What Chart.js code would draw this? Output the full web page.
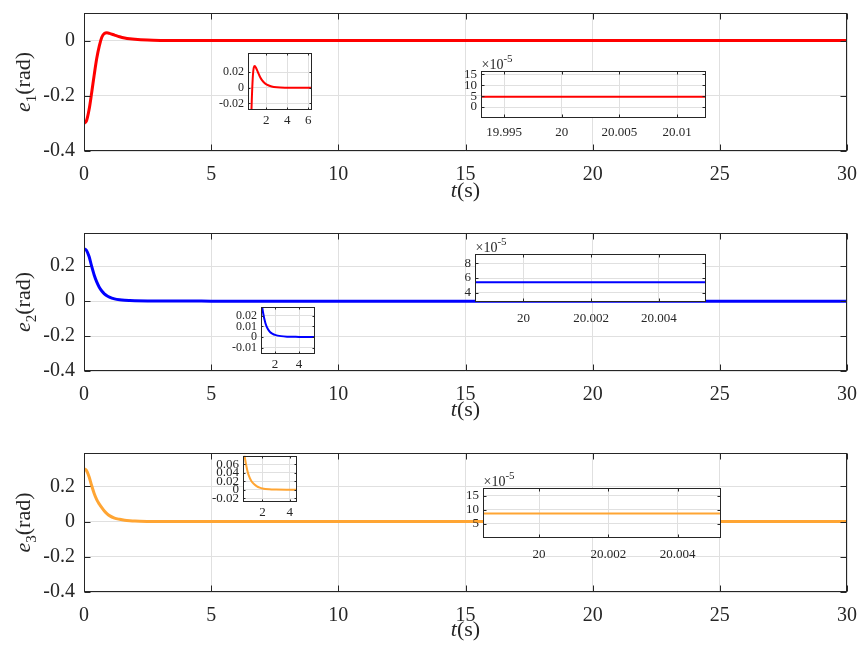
<!DOCTYPE html>
<html>
<head>
<meta charset="utf-8">
<script src="https://cdn.jsdelivr.net/npm/chart.js@4.4.0/dist/chart.umd.min.js"></script>
<style>
html, body { margin: 0; padding: 0; background: #fff; }
#wrap { position: relative; width: 861px; height: 648px; overflow: hidden; }
#wrap canvas { position: absolute; }
</style>
</head>
<body>
<div id="wrap"></div>
<script>
// time samples (s) and errors (rad)
const tMain = [0, 0.1, 0.2, 0.3, 0.4, 0.5, 0.6, 0.7, 0.8, 0.9, 1.0, 1.2, 1.4, 1.6, 1.8, 2.0, 2.5, 3, 4, 5, 30];
const e1 = [-0.30, -0.29, -0.25, -0.19, -0.125, -0.065, -0.02, 0.012, 0.026, 0.028, 0.026, 0.020, 0.014, 0.0095, 0.0065, 0.0045, 0.0018, 0.0007, 0.0002, 0.0001, 0];
const e2 = [0.30, 0.29, 0.255, 0.20, 0.15, 0.11, 0.08, 0.058, 0.042, 0.031, 0.023, 0.013, 0.0075, 0.0045, 0.003, 0.002, 0.0008, 0.0003, 0.0001, 0, 0];
const e3 = [0.30, 0.29, 0.255, 0.205, 0.16, 0.125, 0.10, 0.079, 0.06, 0.045, 0.034, 0.02, 0.013, 0.008, 0.005, 0.003, 0.001, 0.0004, 0.0001, 0, 0];

// zoom around t = 20 s
const tZoom = [19.99, 20.02];
const e1Zoom = [4.7e-5, 4.7e-5];
const e2Zoom = [5.4e-5, 5.4e-5];
const e3Zoom = [8.7e-5, 8.7e-5];

// tick values and labels
const xTicksMain = [0, 5, 10, 15, 20, 25, 30];
const xLabelsMain = ['0', '5', '10', '15', '20', '25', '30'];
const yTicks1 = [-0.4, -0.2, 0];
const yLabels1 = ['-0.4', '-0.2', '0'];
const yTicks23 = [-0.4, -0.2, 0, 0.2];
const yLabels23 = ['-0.4', '-0.2', '0', '0.2'];

const xTicksSmall1 = [2, 4, 6];
const xLabelsSmall1 = ['2', '4', '6'];
const yTicksSmall1 = [-0.02, 0, 0.02];
const yLabelsSmall1 = ['-0.02', '0', '0.02'];
const xTicksSmall23 = [2, 4];
const xLabelsSmall23 = ['2', '4'];
const yTicksSmall2 = [-0.01, 0, 0.01, 0.02];
const yLabelsSmall2 = ['-0.01', '0', '0.01', '0.02'];
const yTicksSmall3 = [-0.02, 0, 0.02, 0.04, 0.06];
const yLabelsSmall3 = ['-0.02', '0', '0.02', '0.04', '0.06'];

const xTicksZoom1 = [19.995, 20, 20.005, 20.01];
const xLabelsZoom1 = ['19.995', '20', '20.005', '20.01'];
const yTicksZoom1 = [0, 5e-5, 10e-5, 15e-5];
const yLabelsZoom1 = ['0', '5', '10', '15'];
const xTicksZoom23 = [20, 20.002, 20.004];
const xLabelsZoom23 = ['20', '20.002', '20.004'];
const yTicksZoom2 = [4e-5, 6e-5, 8e-5];
const yLabelsZoom2 = ['4', '6', '8'];
const yTicksZoom3 = [5e-5, 10e-5, 15e-5];
const yLabelsZoom3 = ['5', '10', '15'];

const SERIF = '"Liberation Serif", "Times New Roman", serif';
const INK = '#262626';
const GRID = '#e0e0e0';
const RED = '#ff0000', BLUE = '#0000ff', ORANGE = '#ffa533';

const wrap = document.getElementById('wrap');

const framePlugin = {
    id: 'frame',
    beforeDraw(chart, args, o) {
        const a = chart.chartArea, ctx = chart.ctx;
        if (o.fill) {
            ctx.save();
            ctx.fillStyle = '#fff';
            ctx.fillRect(a.left, a.top, a.right - a.left, a.bottom - a.top);
            ctx.restore();
        }
    },
    afterDraw(chart, args, o) {
        const a = chart.chartArea, ctx = chart.ctx;
        const L = Math.round(a.left) + 0.5, R = Math.round(a.right) - 0.5;
        const T = Math.round(a.top) + 0.5, B = Math.round(a.bottom) - 0.5;
        const len = o.tick;
        ctx.save();
        ctx.strokeStyle = INK;
        ctx.lineWidth = 1;
        ctx.beginPath();
        chart.scales.x.ticks.forEach(t => {
            const px = Math.round(chart.scales.x.getPixelForValue(t.value)) + 0.5;
            ctx.moveTo(px, B); ctx.lineTo(px, B - len);
            ctx.moveTo(px, T); ctx.lineTo(px, T + len);
        });
        chart.scales.y.ticks.forEach(t => {
            const py = Math.round(chart.scales.y.getPixelForValue(t.value)) + 0.5;
            ctx.moveTo(L, py); ctx.lineTo(L + len, py);
            ctx.moveTo(R, py); ctx.lineTo(R - len, py);
        });
        ctx.stroke();
        ctx.strokeRect(L, T, R - L, B - T);
        ctx.fillStyle = INK;

        if (o.yTitle) {
            const yt = o.yTitle;
            const fMain = yt.size + 'px ' + SERIF;
            const fIt = 'italic ' + fMain;
            const fSub = Math.round(yt.size * 0.7) + 'px ' + SERIF;
            ctx.save();
            ctx.translate(yt.x, yt.y);
            ctx.rotate(-Math.PI / 2);
            ctx.textBaseline = 'alphabetic';
            ctx.font = fIt; const w1 = ctx.measureText(yt.text).width;
            ctx.font = fSub; const w2 = ctx.measureText(yt.sub).width;
            ctx.font = fMain; const w3 = ctx.measureText(yt.rest).width;
            let x0 = -(w1 + w2 + w3) / 2;
            ctx.font = fIt; ctx.fillText(yt.text, x0, 0); x0 += w1;
            ctx.font = fSub; ctx.fillText(yt.sub, x0, yt.size * 0.25); x0 += w2;
            ctx.font = fMain; ctx.fillText(yt.rest, x0, 0);
            ctx.restore();
        }
        if (o.xTitle) {
            const xt = o.xTitle;
            const fMain = xt.size + 'px ' + SERIF;
            ctx.textBaseline = 'middle';
            ctx.font = 'italic ' + fMain; const w1 = ctx.measureText(xt.text).width;
            ctx.font = fMain; const w2 = ctx.measureText(xt.rest).width;
            let x0 = xt.x - (w1 + w2) / 2;
            ctx.font = 'italic ' + fMain; ctx.fillText(xt.text, x0, xt.y);
            ctx.font = fMain; ctx.fillText(xt.rest, x0 + w1, xt.y);
        }
        if (o.exp) {
            ctx.textBaseline = 'alphabetic';
            ctx.font = '14px ' + SERIF;
            const w = ctx.measureText('\u00d710').width;
            ctx.fillText('\u00d710', L, T - 3);
            ctx.font = '11px ' + SERIF;
            ctx.fillText(o.exp, L + w, T - 10);
        }
        ctx.restore();
    }
};

function scaleOpts(min, max, values, labels, size, pad) {
    return {
        type: 'linear',
        min: min,
        max: max,
        afterBuildTicks: s => { s.ticks = values.map(v => ({ value: v })); },
        grid: { color: GRID, drawTicks: false },
        border: { display: false },
        ticks: {
            autoSkip: false,
            maxRotation: 0,
            padding: pad,
            color: INK,
            font: { family: SERIF, size: size },
            callback: (v, i) => labels[i]
        }
    };
}

function series(ts, ys, color, width) {
    return {
        data: ts.map((t, i) => ({ x: t, y: ys[i] })),
        borderColor: color,
        borderWidth: width,
        pointRadius: 0,
        cubicInterpolationMode: 'monotone',
        fill: false,
        clip: 0
    };
}

function makeChart(box, area, datasets, xs, ys, frame) {
    const c = document.createElement('canvas');
    c.width = box.w;
    c.height = box.h;
    c.style.left = box.left + 'px';
    c.style.top = box.top + 'px';
    c.style.width = box.w + 'px';
    c.style.height = box.h + 'px';
    wrap.appendChild(c);
    xs.afterFit = s => { s.height = box.top + box.h - area.b; };
    ys.afterFit = s => { s.width = area.l - box.left; };
    return new Chart(c, {
        type: 'line',
        data: { datasets: datasets },
        options: {
            responsive: false,
            animation: false,
            events: [],
            layout: { padding: { left: 0, top: area.t - box.top, right: box.left + box.w - area.r, bottom: 0 } },
            plugins: { legend: { display: false }, tooltip: { enabled: false }, frame: frame },
            scales: { x: xs, y: ys }
        },
        plugins: [framePlugin]
    });
}

// main panels (canvases reach past the page edge so label padding cannot shrink the plot)
const panels = [
    { box: { left: 0, top: -12, w: 880, h: 224 }, area: { l: 84, t: 13, r: 847, b: 151 }, ys: e1, color: RED,
      yMin: -0.4, yMax: 0.1, yT: yTicks1, yL: yLabels1, sub: '1', xTitleY: 191 },
    { box: { left: 0, top: 212, w: 880, h: 218 }, area: { l: 84, t: 233, r: 847, b: 371 }, ys: e2, color: BLUE,
      yMin: -0.4, yMax: 0.39, yT: yTicks23, yL: yLabels23, sub: '2', xTitleY: 410 },
    { box: { left: 0, top: 430, w: 880, h: 218 }, area: { l: 84, t: 453, r: 847, b: 592 }, ys: e3, color: ORANGE,
      yMin: -0.4, yMax: 0.39, yT: yTicks23, yL: yLabels23, sub: '3', xTitleY: 630 }
];

panels.forEach(p => {
    makeChart(p.box, p.area,
        [series(tMain, p.ys, p.color, 3)],
        scaleOpts(0, 30, xTicksMain, xLabelsMain, 20, 12),
        scaleOpts(p.yMin, p.yMax, p.yT, p.yL, 20, 9),
        {
            fill: false, tick: 6,
            yTitle: { text: 'e', sub: p.sub, rest: '(rad)', size: 22, x: 30 - p.box.left, y: (p.area.t + p.area.b) / 2 - p.box.top },
            xTitle: { text: 't', rest: '(s)', size: 22, x: (p.area.l + p.area.r) / 2 - p.box.left, y: p.xTitleY - p.box.top }
        });
});

// small insets: start of transient
makeChart({ left: 200, top: 42, w: 125, h: 90 }, { l: 248, t: 52, r: 312, b: 110 },
    [series(tMain, e1, RED, 2)],
    scaleOpts(0.25, 6.35, xTicksSmall1, xLabelsSmall1, 13, 3),
    scaleOpts(-0.0285, 0.0445, yTicksSmall1, yLabelsSmall1, 12, 4),
    { fill: true, tick: 2 });

makeChart({ left: 212, top: 296, w: 115, h: 80 }, { l: 261, t: 307, r: 315, b: 354 },
    [series(tMain, e2, BLUE, 2)],
    scaleOpts(0.83, 5.33, xTicksSmall23, xLabelsSmall23, 13, 3),
    scaleOpts(-0.016, 0.028, yTicksSmall2, yLabelsSmall2, 12, 4),
    { fill: true, tick: 2 });

makeChart({ left: 195, top: 444, w: 115, h: 80 }, { l: 243, t: 453, r: 297, b: 502 },
    [series(tMain, e3, ORANGE, 2)],
    scaleOpts(0.58, 4.53, xTicksSmall23, xLabelsSmall23, 13, 3),
    scaleOpts(-0.029, 0.08, yTicksSmall3, yLabelsSmall3, 13, 4),
    { fill: true, tick: 2 });

// zoom insets around t = 20 s
makeChart({ left: 430, top: 50, w: 300, h: 95 }, { l: 481, t: 71, r: 706, b: 118 },
    [series(tZoom, e1Zoom, RED, 2)],
    scaleOpts(19.993, 20.0125, xTicksZoom1, xLabelsZoom1, 13, 7),
    scaleOpts(-5e-5, 16.5e-5, yTicksZoom1, yLabelsZoom1, 13, 4),
    { fill: true, tick: 3, exp: '-5' });

makeChart({ left: 430, top: 236, w: 295, h: 95 }, { l: 475, t: 254, r: 706, b: 302 },
    [series(tZoom, e2Zoom, BLUE, 2)],
    scaleOpts(19.99857, 20.00539, xTicksZoom23, xLabelsZoom23, 13, 9),
    scaleOpts(2.7e-5, 9.3e-5, yTicksZoom2, yLabelsZoom2, 13, 4),
    { fill: true, tick: 3, exp: '-5' });

makeChart({ left: 430, top: 470, w: 305, h: 95 }, { l: 483, t: 488, r: 721, b: 538 },
    [series(tZoom, e3Zoom, ORANGE, 2)],
    scaleOpts(19.99838, 20.00525, xTicksZoom23, xLabelsZoom23, 13, 9),
    scaleOpts(0, 17.7e-5, yTicksZoom3, yLabelsZoom3, 13, 4),
    { fill: true, tick: 3, exp: '-5' });
</script>
</body>
</html>
